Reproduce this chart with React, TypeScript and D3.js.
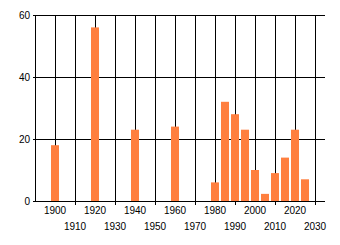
import React from "react";
import * as d3 from "d3";

const years = [1900, 1920, 1940, 1960, 1980, 1985, 1990, 1995, 2000, 2005, 2010, 2015, 2020, 2025];
const values = [18, 56, 23, 24, 6, 32, 28, 23, 10, 2.3, 9, 14, 23, 7];
const yTicks = [0, 20, 40, 60];
const gridYears = d3.range(1890, 2031, 10);
const labelYearsTop = [1900, 1920, 1940, 1960, 1980, 2000, 2020];
const labelYearsBottom = [1910, 1930, 1950, 1970, 1990, 2010, 2030];

export default function App() {
  const W = 340, H = 245;
  const x = d3.scaleLinear().domain([1890, 2035]).range([35, 325]);
  const y = d3.scaleLinear().domain([0, 60]).range([201, 15]);
  const barW = x(1904) - x(1900);
  const font = "'Liberation Sans', Arial, sans-serif";
  return (
    <svg width={W} height={H} style={{ position: "absolute", left: 0, top: 0, background: "#fff" }}>
      {yTicks.map((t) => (
        <line key={"h" + t} x1={33} x2={x(2035)} y1={Math.round(y(t)) + 0.5} y2={Math.round(y(t)) + 0.5} stroke="#000" strokeWidth={1} />
      ))}
      {gridYears.map((g) => (
        <line key={"v" + g} x1={Math.round(x(g)) + 0.5} x2={Math.round(x(g)) + 0.5} y1={y(60)} y2={y(0)} stroke="#000" strokeWidth={1} />
      ))}
      {labelYearsBottom.map((g) => (
        <line key={"t" + g} x1={Math.round(x(g)) + 0.5} x2={Math.round(x(g)) + 0.5} y1={y(0)} y2={y(0) + 4} stroke="#000" strokeWidth={1} />
      ))}
      {years.map((yr, i) => (
        <rect key={"b" + yr} x={x(yr) - barW / 2} y={y(values[i])} width={barW} height={y(0) - y(values[i])} fill="#FF7F3F" />
      ))}
      {yTicks.map((t) => (
        <text key={"yl" + t} x={30} y={y(t) + 3.7} textAnchor="end" fontFamily={font} fontSize={10} fill="#000">{t}</text>
      ))}
      {labelYearsTop.map((g) => (
        <text key={"xl" + g} x={x(g)} y={214} textAnchor="middle" fontFamily={font} fontSize={10} fill="#000">{g}</text>
      ))}
      {labelYearsBottom.map((g) => (
        <text key={"xb" + g} x={x(g)} y={230} textAnchor="middle" fontFamily={font} fontSize={10} fill="#000">{g}</text>
      ))}
    </svg>
  );
}
